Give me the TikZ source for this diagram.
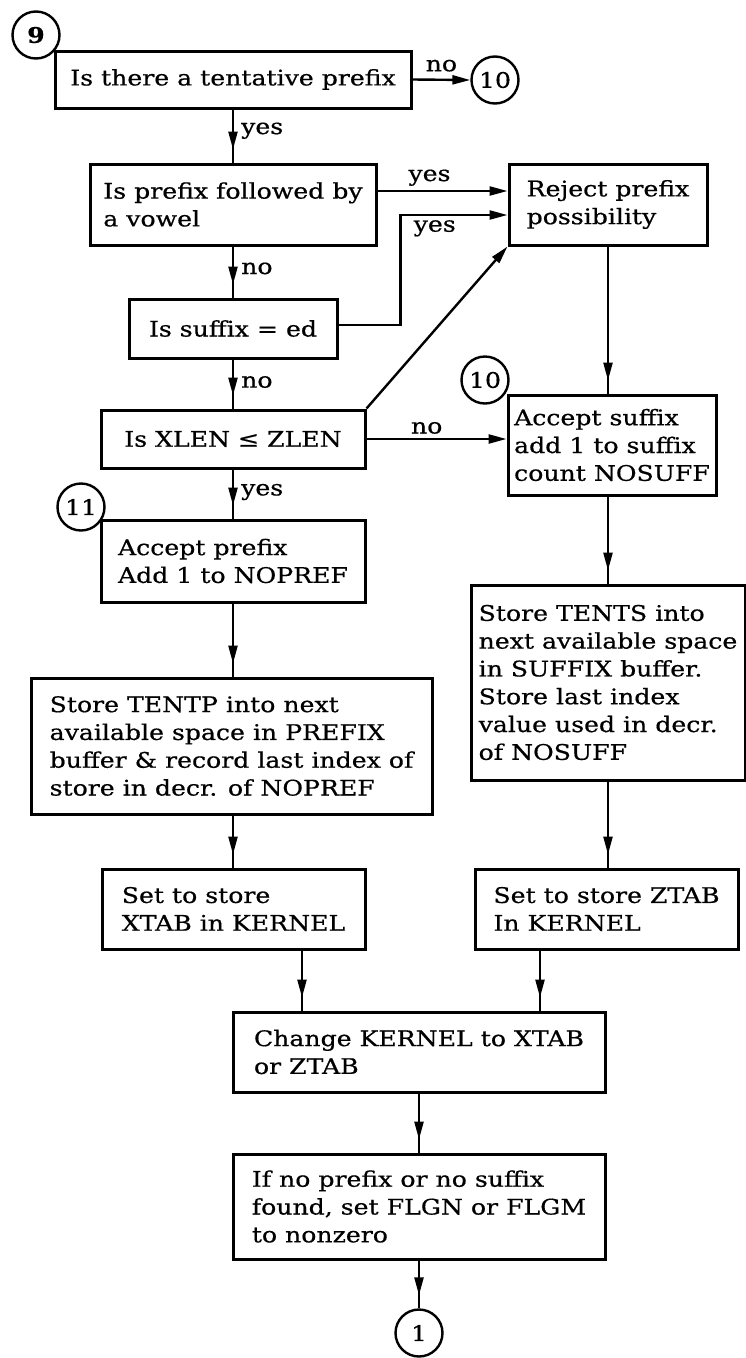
\documentclass[tikz,border=0pt]{standalone}
\usepackage{fontspec}
\setmainfont{DejaVu Serif}[FakeStretch=1.17,FakeBold=0.6]
\usetikzlibrary{arrows.meta,decorations.markings,calc}
\tikzset{
  box/.style={draw, line width=3pt, rectangle, align=left, inner sep=0pt},
  conn/.style={draw, circle, line width=2.4pt, inner sep=0pt, minimum size=47pt},
  lbl/.style={inner sep=2pt},
  arr/.style={line width=2.4pt, -{Triangle[length=18pt,width=9pt]}},
  arrn/.style={line width=2.4pt, postaction={decorate, decoration={markings,
      mark=at position -13pt with {\arrow{Triangle[length=18pt,width=9pt]}}}}}
}
\begin{document}
\begin{tikzpicture}[x=1pt,y=-1pt,font=\fontsize{21.5pt}{27.8pt}\selectfont]
\useasboundingbox (0,0) rectangle (746,1358);
% boxes
\node[box, minimum width=356pt, minimum height=57pt] (b1) at (233,79.5) {Is there a tentative prefix};
\node[box, minimum width=286pt, minimum height=81pt] (b2) at (233,204.5) {Is prefix followed by\\a vowel};
\node[box, minimum width=198pt, minimum height=81pt] (rej) at (608,204.5) {Reject prefix\\possibility};
\node[box, minimum width=208pt, minimum height=59pt] (b3) at (233,328.5) {Is suffix = ed};
\node[box, minimum width=264pt, minimum height=58pt] (b4) at (233,439) {Is XLEN ≤ ZLEN};
\node[box, minimum width=208pt, minimum height=100pt] (accs) at (612,445) {Accept suffix\\add 1 to suffix\\count NOSUFF};
\node[box, minimum width=264pt, minimum height=82pt] (accp) at (233,561) {Accept prefix\\Add 1 to NOPREF};
\node[box, minimum width=401pt, minimum height=136pt] (stp) at (231.5,746) {Store TENTP into next\\available space in PREFIX\\buffer \& record last index of\\store in decr. of NOPREF};
\node[box, minimum width=274pt, minimum height=195pt] (sts) at (608,682.5) {Store TENTS into\\next available space\\in SUFFIX buffer.\\Store last index\\value used in decr.\\of NOSUFF};
\node[box, minimum width=263pt, minimum height=80pt] (setx) at (233.5,909) {Set to store\\XTAB in KERNEL};
\node[box, minimum width=263pt, minimum height=80pt] (setz) at (606.5,909) {Set to store ZTAB\\In KERNEL};
\node[box, minimum width=372pt, minimum height=80pt] (chg) at (419,1052) {Change KERNEL to XTAB\\or ZTAB};
\node[box, minimum width=372pt, minimum height=105pt] (ifb) at (419,1206.5) {If no prefix or no suffix\\found, set FLGN or FLGM\\to nonzero};
% connectors (circles)
\node[conn, fill=white] (c9) at (36,35) {\bfseries 9};
\node[conn] (c10a) at (495,80) {10};
\node[conn, fill=white] (c10b) at (485,380) {10};
\node[conn, fill=white] (c11) at (81,507) {11};
\node[conn] (c1) at (419,1333) {1};
% arrows
\draw[arr] (b1.east) -- (c10a.west) node[lbl, midway, above=5pt] {no};
\draw[arrn] (b1.south) -- (b2.north) node[lbl, pos=0.4, right=5pt] {yes};
\draw[arr] ([yshift=13.5pt]b2.east) -- ([yshift=13.5pt]rej.west) node[lbl, pos=0.4, above=2pt] {yes};
\draw[arrn] (b2.south) -- (b3.north) node[lbl, pos=0.43, right=5pt] {no};
\draw[arr] ([yshift=3.5pt]b3.east) -- ++(62pt,0) |- ([yshift=-10.5pt]rej.west) node[lbl, pos=0.66, below=2pt] {yes};
\draw[arrn] (b3.south) -- (b4.north) node[lbl, pos=0.46, right=5pt] {no};
\draw[arr] (b4.north east) -- (rej.south west);
\draw[arr] (b4.east) -- (b4.east -| accs.west) node[lbl, pos=0.43, above=2pt] {no};
\draw[arrn] (rej.south) -- (rej.south |- accs.north);
\draw[arrn] (b4.south) -- (accp.north) node[lbl, pos=0.46, right=5pt] {yes};
\draw[arrn] (accp.south) -- (accp.south |- stp.north);
\draw[arrn] (rej.south |- accs.south) -- (rej.south |- sts.north);
\draw[arrn] (accp.south |- stp.south) -- (accp.south |- setx.north);
\draw[arrn] (rej.south |- sts.south) -- (rej.south |- setz.north);
\draw[arrn] ([xshift=68.5pt]setx.south) -- ([xshift=68.5pt]setx.south |- chg.north);
\draw[arrn] ([xshift=-66.5pt]setz.south) -- ([xshift=-66.5pt]setz.south |- chg.north);
\draw[arrn] (chg.south) -- (ifb.north);
\draw[arrn] (ifb.south) -- (c1.north);
\end{tikzpicture}
\end{document}
